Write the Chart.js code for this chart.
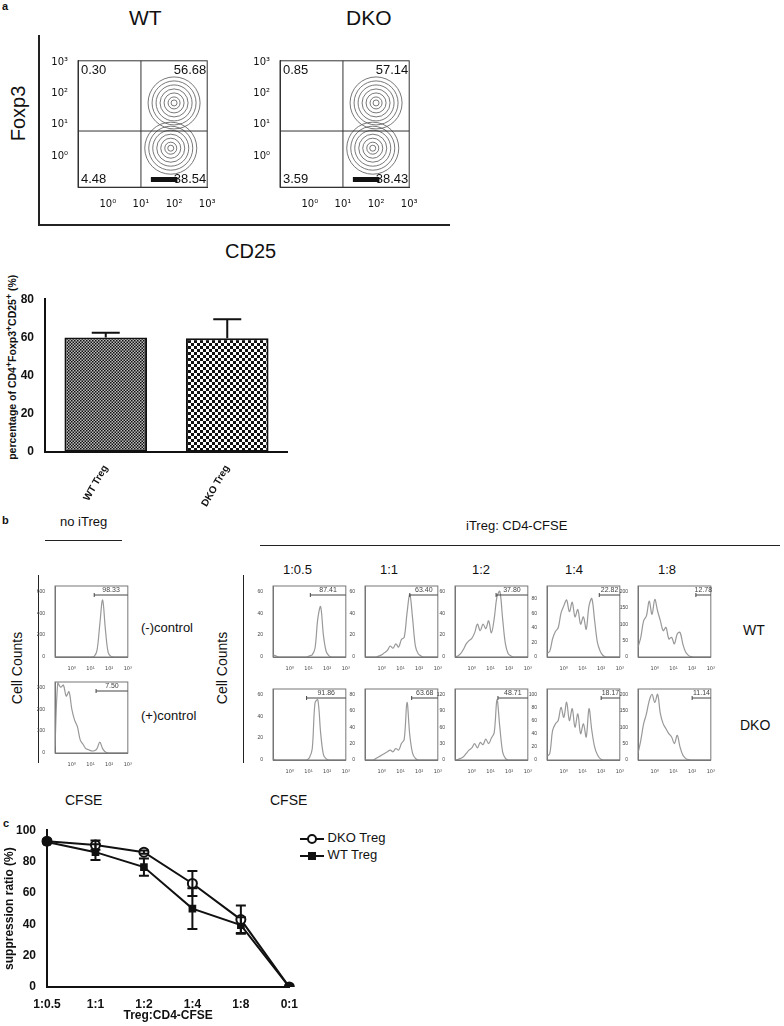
<!DOCTYPE html>
<html><head><meta charset="utf-8">
<script src="https://cdn.jsdelivr.net/npm/chart.js@4"></script>
<style>
body{margin:0;width:784px;height:1026px;position:relative;background:#fff;font-family:"Liberation Sans",Arial,sans-serif;color:#111;overflow:hidden}
canvas{position:absolute}
.t{position:absolute;white-space:nowrap}
.ln{position:absolute;background:#222}
.rot{transform:rotate(-90deg);transform-origin:center}
</style></head><body>
<div class="t" style="left:2px;top:0;font-size:11px;font-weight:bold">a</div>
<div class="t" style="left:129px;top:6px;font-size:21px">WT</div>
<div class="t" style="left:346px;top:6px;font-size:21px">DKO</div>
<div class="ln" style="left:38px;top:35px;width:1.5px;height:191px"></div>
<div class="ln" style="left:38px;top:224px;width:412px;height:1.5px"></div>
<div class="t rot" style="left:-12px;top:102px;font-size:20px;width:60px;text-align:center">Foxp3</div>
<div class="t" style="left:225px;top:240px;font-size:20px">CD25</div>
<div class="t rot" style="left:-89px;top:360px;font-size:10.5px;font-weight:bold;width:200px;text-align:center">percentage of CD4<sup>+</sup>Foxp3<sup>+</sup>CD25<sup>+</sup> (%)</div>

<div class="t" style="left:2px;top:514px;font-size:11px;font-weight:bold">b</div>
<div class="t" style="left:60px;top:514px;font-size:13px">no iTreg</div>
<div class="ln" style="left:45px;top:540px;width:77px;height:1px"></div>
<div class="t" style="left:466px;top:518px;font-size:13px">iTreg: CD4-CFSE</div>
<div class="ln" style="left:260px;top:545px;width:520px;height:1px"></div>
<div class="t" style="left:283px;top:562px;font-size:13px">1:0.5</div>
<div class="t" style="left:380px;top:562px;font-size:13px">1:1</div>
<div class="t" style="left:472px;top:562px;font-size:13px">1:2</div>
<div class="t" style="left:565px;top:562px;font-size:13px">1:4</div>
<div class="t" style="left:658px;top:562px;font-size:13px">1:8</div>
<div class="ln" style="left:38px;top:575px;width:1px;height:188px"></div>
<div class="ln" style="left:243px;top:575px;width:1px;height:188px"></div>
<div class="t rot" style="left:-23px;top:660px;font-size:14px;width:80px;text-align:center">Cell Counts</div>
<div class="t rot" style="left:182px;top:660px;font-size:14px;width:80px;text-align:center">Cell Counts</div>
<div class="t" style="left:141px;top:620px;font-size:13px">(-)control</div>
<div class="t" style="left:141px;top:708px;font-size:13px">(+)control</div>
<div class="t" style="left:743px;top:622px;font-size:14px">WT</div>
<div class="t" style="left:740px;top:717px;font-size:14px">DKO</div>
<div class="t" style="left:65px;top:792px;font-size:14px">CFSE</div>
<div class="t" style="left:270px;top:792px;font-size:14px">CFSE</div>
<div class="t" style="left:3px;top:817px;font-size:11px;font-weight:bold">c</div>

<script>
// panel a: quadrant percentages
const flowLabels = {
  WT: ['0.30', '56.68', '4.48', '38.54'],
  DKO: ['0.85', '57.14', '3.59', '38.43'],
};
// contour centres (log units) and ring radii
const flowPops = [[2.0, 1.7], [1.9, 0.25]];
const flowRings = [3, 6, 10, 14, 18, 22, 26];

// bar chart
const barCats = ['WT Treg', 'DKO Treg'];
const barVals = [60, 59.5];
const barErr = [2.5, 10];

// panel b histograms, x grid in log10 units
const histX = [-0.9,-0.75,-0.6,-0.45,-0.3,-0.15,0,0.15,0.3,0.45,0.6,0.75,0.9,1.05,1.2,1.35,1.5,1.65,1.8,1.95,2.1,2.25,2.4,2.55,2.7,2.85,3.0];
const hNeg = [0,0,0,0,0,0,0,0,0,0,0,0,0,0,5,60,300,520,250,40,5,0,0,0,0,0,0];
const hPos = [30,320,300,310,260,280,200,150,120,60,40,20,15,10,10,20,50,20,5,0,0,0,0,0,0,0,0];
const hWT = [
  [2,1,0,0,0,0,0,0,0,0,0,0,0,1,2,8,35,46,20,5,1,0,0,0,0,0,0],
  [0,0,0,0,0,1,2,4,6,10,8,12,9,16,18,40,57,35,10,3,1,0,0,0,0,0,0],
  [0,1,3,7,12,15,17,22,30,24,30,26,33,22,35,55,60,35,12,3,1,0,0,0,0,0,0],
  [5,8,25,35,40,60,70,78,62,75,55,65,45,55,38,70,80,50,20,8,2,0,0,0,0,0,0],
  [30,60,110,125,170,130,175,140,110,80,90,55,60,40,70,75,40,15,5,1,0,0,0,0,0,0,0],
];
const hDKO = [
  [1,0,0,0,0,0,0,0,0,0,0,0,0,2,10,52,55,25,5,1,0,0,0,0,0,0,0],
  [0,0,0,0,2,4,6,8,10,12,10,14,12,20,25,70,30,8,2,0,0,0,0,0,0,0,0],
  [0,1,3,6,12,18,22,30,22,32,28,38,30,40,50,110,60,15,3,0,0,0,0,0,0,0,0],
  [5,10,45,55,60,80,65,88,60,78,50,70,40,55,35,78,45,20,8,2,0,0,0,0,0,0,0],
  [20,60,110,140,180,200,175,200,140,110,95,80,70,50,75,40,15,5,1,0,0,0,0,0,0,0,0],
];
const hMaxNeg = 600, hMaxPos = 300;
const hMaxWT = [60, 60, 60, 90, 200], hMaxDKO = [60, 80, 120, 100, 200];
const hStepWT = [20, 20, 20, 20, 50], hStepDKO = [20, 20, 30, 20, 50];
const gateWT = ['87.41', '63.40', '37.80', '22.82', '12.78'];
const gateDKO = ['91.86', '63.68', '48.71', '18.17', '11.14'];
const gateStartWT = [1.1, 1.5, 1.3, 1.9, 2.2], gateStartDKO = [0.9, 1.6, 1.4, 2.0, 2.0];

// panel c
const ratioCats = ['1:0.5', '1:1', '1:2', '1:4', '1:8', '0:1'];
const dkoVals = [93, 90.5, 86, 66, 43, 0];
const dkoErr = [1, 3, 1, 8, 9, 0];
const wtVals = [92.5, 86, 76.5, 50, 39.5, 0];
const wtErr = [1, 5, 5.5, 13, 5, 0];

const F = '"Liberation Sans", Arial, sans-serif';
const TF = '"DejaVu Sans", sans-serif';
const sup = ['\u2070', '\u00b9', '\u00b2', '\u00b3'];
Chart.defaults.font.family = F;
Chart.defaults.color = '#111';
Chart.defaults.animation = false;
Chart.defaults.plugins.legend.display = false;
Chart.defaults.plugins.tooltip.enabled = false;

// place a canvas so that the chart area sits at (x0,y0)-(x1,y1)
function place(x0, y0, x1, y1, L, B, T, R) {
  const c = document.createElement('canvas');
  c.style.left = (x0 - L) + 'px'; c.style.top = (y0 - T) + 'px';
  c.style.width = (x1 - x0 + L + R) + 'px'; c.style.height = (y1 - y0 + T + B) + 'px';
  c.width = x1 - x0 + L + R; c.height = y1 - y0 + T + B;
  document.body.appendChild(c);
  return c;
}
const fixW = (w) => (s) => { s.width = w; };
const fixH = (h) => (s) => { s.height = h; };

// error bar drawer
const errPlugin = {
  id: 'err',
  afterDatasetsDraw(chart) {
    const ctx = chart.ctx;
    chart.data.datasets.forEach((ds, i) => {
      if (!ds.err) return;
      const meta = chart.getDatasetMeta(i);
      meta.data.forEach((el, j) => {
        const e = ds.err[j]; if (!e) return;
        const ys = chart.scales.y;
        const v = ds.data[j];
        const top = ys.getPixelForValue(v + e);
        const bot = ds.errUp ? el.y : ys.getPixelForValue(v - e);
        ctx.save(); ctx.strokeStyle = '#111'; ctx.lineWidth = 2;
        ctx.beginPath(); ctx.moveTo(el.x, top); ctx.lineTo(el.x, bot);
        const cw = ds.capW || 5;
        ctx.moveTo(el.x - cw, top); ctx.lineTo(el.x + cw, top);
        if (!ds.errUp) { ctx.moveTo(el.x - cw, bot); ctx.lineTo(el.x + cw, bot); }
        ctx.stroke(); ctx.restore();
      });
    });
  }
};

// flow plots
function flow(x0, labs) {
  const c = place(x0, 40, x0 + 150, 188, 30, 26, 6, 6);
  const sets = flowPops.map((p) => ({
    type: 'bubble',
    data: flowRings.map((r) => ({ x: p[0], y: p[1], r: r })),
    backgroundColor: 'rgba(0,0,0,0)', borderColor: '#555', borderWidth: 0.8,
  }));
  sets.push({ type: 'line', data: [{ x: 1.3, y: -0.75 }, { x: 2.1, y: -0.75 }], borderColor: '#111', borderWidth: 5, pointRadius: 0 });
  new Chart(c, {
    type: 'scatter',
    data: { datasets: sets },
    options: {
      responsive: false, clip: true,
      scales: {
        x: { min: -0.9, max: 3, afterFit: fixH(26), grid: { display: false }, border: { color: '#333' },
          afterBuildTicks: (s) => { s.ticks = [0, 1, 2, 3].map((v) => ({ value: v })); },
          ticks: { font: { size: 10, family: TF }, callback: (v) => '10' + sup[v], maxRotation: 0 } },
        y: { min: -1, max: 3.05, afterFit: fixW(30), grid: { display: false }, border: { color: '#333' },
          afterBuildTicks: (s) => { s.ticks = [0, 1, 2, 3].map((v) => ({ value: v })); },
          ticks: { font: { size: 10, family: TF }, padding: 2, callback: (v) => '10' + sup[v] } },
      },
    },
    plugins: [{
      id: 'quad',
      afterDraw(ch) {
        const a = ch.chartArea, ctx = ch.ctx;
        const qx = ch.scales.x.getPixelForValue(1), qy = ch.scales.y.getPixelForValue(0.8);
        ctx.save(); ctx.strokeStyle = '#333'; ctx.lineWidth = 1;
        ctx.strokeRect(a.left, a.top, a.right - a.left, a.bottom - a.top);
        ctx.beginPath(); ctx.moveTo(qx, a.top); ctx.lineTo(qx, a.bottom);
        ctx.moveTo(a.left, qy); ctx.lineTo(a.right, qy); ctx.stroke();
        ctx.fillStyle = '#111'; ctx.font = '13px ' + F;
        ctx.textBaseline = 'top'; ctx.textAlign = 'left'; ctx.fillText(labs[0], a.left + 3, a.top + 3);
        ctx.textAlign = 'right'; ctx.fillText(labs[1], a.right - 1, a.top + 3);
        ctx.textBaseline = 'bottom'; ctx.textAlign = 'left'; ctx.fillText(labs[2], a.left + 3, a.bottom - 1);
        ctx.textAlign = 'right'; ctx.fillText(labs[3], a.right - 1, a.bottom - 1);
        ctx.restore();
      }
    }],
  });
}
flow(78, flowLabels.WT);
flow(280, flowLabels.DKO);

// bar chart
function checker(size, a, b) {
  const p = document.createElement('canvas'); p.width = p.height = size * 2;
  const g = p.getContext('2d');
  g.fillStyle = b; g.fillRect(0, 0, size * 2, size * 2);
  g.fillStyle = a; g.fillRect(0, 0, size, size); g.fillRect(size, size, size, size);
  return g.createPattern(p, 'repeat');
}
{
  const c = place(45, 297, 280, 452, 40, 60, 8, 8);
  new Chart(c, {
    type: 'bar',
    data: { labels: barCats, datasets: [{
      data: barVals, err: barErr, errUp: true, capW: 14,
      backgroundColor: [checker(1.5, '#111', '#bbb'), checker(3, '#111', '#fff')],
      borderColor: '#111', borderWidth: 2, borderSkipped: false, categoryPercentage: 0.68, barPercentage: 1,
    }] },
    options: {
      responsive: false,
      scales: {
        x: { afterFit: fixH(60), grid: { display: false }, border: { color: '#111', width: 2 },
          ticks: { font: { size: 10, weight: 'bold' }, maxRotation: 60, minRotation: 60 } },
        y: { min: 0, max: 80, afterFit: fixW(40), grid: { display: false }, border: { color: '#111', width: 2 },
          ticks: { stepSize: 20, font: { size: 12, weight: 'bold' } } },
      },
    },
    plugins: [errPlugin],
  });
}

// histograms
function hist(x0, y0, vals, ymax, step, gStart, gLab) {
  const c = place(x0, y0, x0 + 72, y0 + 74, 18, 14, 2, 6);
  new Chart(c, {
    type: 'line',
    data: { datasets: [{ data: histX.map((x, i) => ({ x: x, y: vals[i] })), borderColor: '#999', borderWidth: 1.2, pointRadius: 0, tension: 0.35 }] },
    options: {
      responsive: false,
      scales: {
        x: { type: 'linear', min: -0.9, max: 3, afterFit: fixH(14), grid: { display: false }, border: { color: '#777' },
          afterBuildTicks: (s) => { s.ticks = [0, 1, 2, 3].map((v) => ({ value: v })); },
          ticks: { font: { size: 5, family: TF }, color: '#444', padding: 1, maxRotation: 0, callback: (v) => '10' + sup[v] } },
        y: { min: 0, max: ymax * 1.08, afterFit: fixW(18), grid: { display: false }, border: { color: '#777' },
          afterBuildTicks: (s) => { const t = []; for (let v = 0; v <= ymax; v += step) t.push({ value: v }); s.ticks = t; },
          ticks: { font: { size: 5 }, color: '#444', padding: 2 } },
      },
    },
    plugins: [{
      id: 'gate',
      afterDraw(ch) {
        const a = ch.chartArea, ctx = ch.ctx;
        const gx = ch.scales.x.getPixelForValue(gStart), gy = a.top + 9;
        ctx.save(); ctx.strokeStyle = '#777'; ctx.lineWidth = 1;
        ctx.strokeRect(a.left, a.top, a.right - a.left, a.bottom - a.top);
        ctx.strokeStyle = '#444';
        ctx.beginPath(); ctx.moveTo(gx, gy); ctx.lineTo(a.right, gy); ctx.moveTo(gx, gy - 2); ctx.lineTo(gx, gy + 2); ctx.stroke();
        ctx.fillStyle = '#444'; ctx.font = '7px ' + F; ctx.textAlign = 'center'; ctx.textBaseline = 'bottom';
        ctx.fillText(gLab, (gx + a.right) / 2, gy - 1);
        ctx.restore();
      }
    }],
  });
}
hist(55, 583, hNeg, hMaxNeg, 200, 1.2, '98.33');
hist(55, 679, hPos, hMaxPos, 100, 1.3, '7.50');
const colX = [273, 365, 455, 547, 638];
colX.forEach((x, i) => {
  hist(x, 583, hWT[i], hMaxWT[i], hStepWT[i], gateStartWT[i], gateWT[i]);
  hist(x, 686, hDKO[i], hMaxDKO[i], hStepDKO[i], gateStartDKO[i], gateDKO[i]);
});

// panel c
{
  const c = place(47, 828, 290, 987, 45, 36, 8, 10);
  new Chart(c, {
    type: 'line',
    data: { labels: ratioCats, datasets: [
      { label: 'DKO Treg', data: dkoVals, err: dkoErr, borderColor: '#111', borderWidth: 2, pointStyle: 'circle', pointRadius: 4.5,
        pointBackgroundColor: ['#111', '#fff', '#fff', '#fff', '#fff', '#111'], pointBorderColor: '#111', pointBorderWidth: 2 },
      { label: 'WT Treg', data: wtVals, err: wtErr, borderColor: '#111', borderWidth: 2, pointStyle: 'rect', pointRadius: 4,
        pointBackgroundColor: '#111', pointBorderColor: '#111' },
    ] },
    options: {
      responsive: false,
      scales: {
        x: { offset: false, afterFit: fixH(36), grid: { display: false }, border: { color: '#111', width: 2 },
          title: { display: true, text: 'Treg:CD4-CFSE', font: { size: 12, weight: 'bold' }, padding: 0 },
          ticks: { font: { size: 12, weight: 'bold' }, maxRotation: 0, padding: 2 } },
        y: { min: 0, max: 100, afterFit: fixW(45), grid: { display: false }, border: { color: '#111', width: 2 },
          title: { display: true, text: 'suppression ratio (%)', font: { size: 12, weight: 'bold' }, padding: 0 },
          ticks: { stepSize: 20, font: { size: 12, weight: 'bold' } } },
      },
    },
    plugins: [errPlugin],
  });
}
</script>
<div class="t" style="left:300px;top:830px;font-size:13px">
  <div style="height:17px"><svg width="24" height="12" style="vertical-align:middle"><line x1="0" y1="6" x2="24" y2="6" stroke="#111" stroke-width="2"/><circle cx="12" cy="6" r="4" fill="#fff" stroke="#111" stroke-width="2"/></svg> DKO Treg</div>
  <div style="height:17px"><svg width="24" height="12" style="vertical-align:middle"><line x1="0" y1="6" x2="24" y2="6" stroke="#111" stroke-width="2"/><rect x="8" y="2" width="8" height="8" fill="#111"/></svg> WT Treg</div>
</div>
</body></html>
